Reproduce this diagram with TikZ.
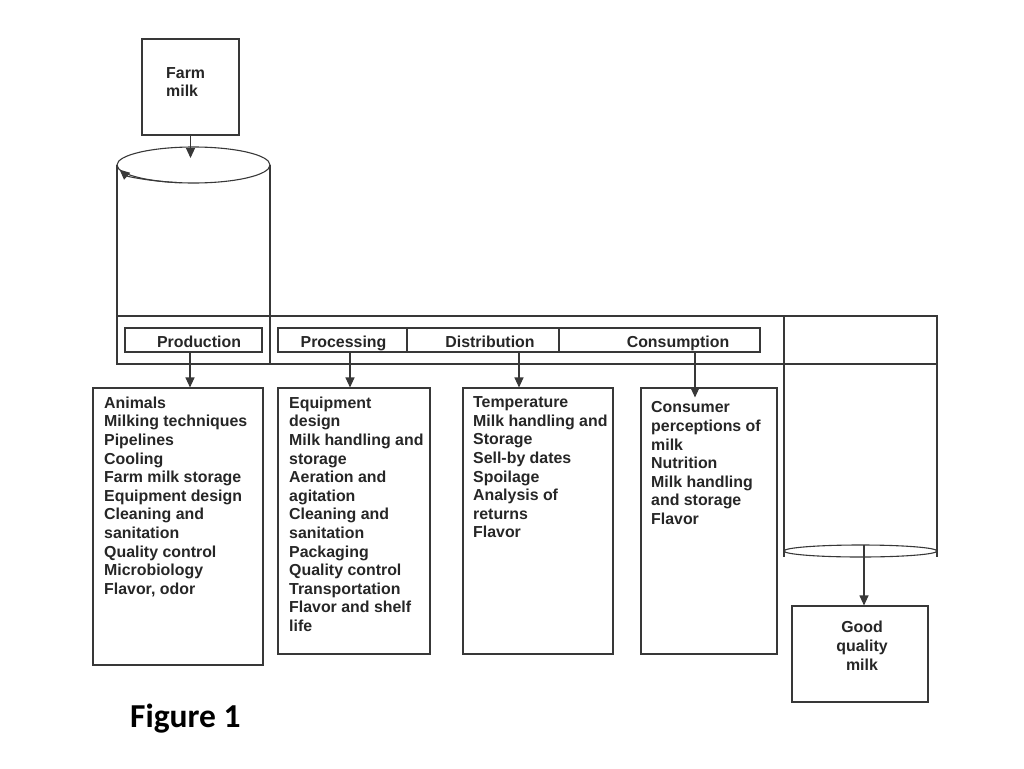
\documentclass[tikz,border=0pt]{standalone}
\usepackage{fontspec}
\setmainfont{Liberation Sans}
\newfontfamily\figfont{Carlito}
\usetikzlibrary{arrows.meta}
\begin{document}
\begin{tikzpicture}[x=1pt,y=-1pt,
  ln/.style={draw=black!78, line width=1.1pt},
  box/.style={ln, rectangle, inner sep=0pt},
  lab/.style={box, minimum height=24pt, text height=15pt, text depth=1pt,
    font=\fontsize{15.9}{18.6}\selectfont\bfseries, text=black!85},
  lst/.style={align=left, inner sep=0pt, text=black!85,
    font=\fontsize{15.9}{18.6}\selectfont\bfseries},
  arr/.style={ln, -{Triangle[length=10pt,width=9pt]}}]
\useasboundingbox (0,0) rectangle (1024,768);

% top box and first cylinder
\node[box, minimum width=97pt, minimum height=96pt] (farm) at (190.5,87) {};
\node[lst, anchor=north west, font=\fontsize{15.9}{18}\selectfont\bfseries] (farmtxt) at (166,67) {Farm\\milk};
\draw[ln] (193.5,165) ellipse [x radius=76.5, y radius=18];
\draw[arr] (193.5,165) ++(100:76.5 and 18) arc[start angle=100, end angle=165, x radius=76.5, y radius=18];
\draw[ln] (117,165) -- (117,316);
\draw[ln] (270,165) -- (270,364);
\coordinate (cyl1) at (190.5,158);
\draw[arr] (farm.south) -- (cyl1);

% stage band
\node[box, minimum width=820pt, minimum height=48pt] (stage) at (527,340) {};
\draw[ln] (784,316) -- (784,557);
\draw[ln] (937,316) -- (937,557);
\draw[ln] (860.5,551) ellipse [x radius=76.5, y radius=6];

\node[lab, minimum width=137pt] (prodlab) at (193.5,340) {\hspace*{11pt}Production};
\node[lab, minimum width=129pt] (proclab) at (342.5,340) {\hspace*{2pt}Processing};
\node[lab, minimum width=152pt] (distlab) at (483,340) {\hspace*{14pt}Distribution};
\node[lab, minimum width=201pt] (conslab) at (659.5,340) {\hspace*{37pt}Consumption};

% list boxes
\node[box, minimum width=170pt, minimum height=277pt] (prodlist) at (178,526.5) {};
\node[box, minimum width=152pt, minimum height=266pt] (proclist) at (354,521) {};
\node[box, minimum width=150pt, minimum height=266pt] (distlist) at (538,521) {};
\node[box, minimum width=136pt, minimum height=266pt] (conslist) at (709,521) {};

\node[lst, anchor=north west] (prodtxt) at (104,396.5) {Animals\\Milking techniques\\Pipelines\\Cooling\\Farm milk storage\\Equipment design\\Cleaning and\\sanitation\\Quality control\\Microbiology\\Flavor, odor};
\node[lst, anchor=north west] (proctxt) at (289,396.5) {Equipment\\design\\Milk handling and\\storage\\Aeration and\\agitation\\Cleaning and\\sanitation\\Packaging\\Quality control\\Transportation\\Flavor and shelf\\life};
\node[lst, anchor=north west] (disttxt) at (473,396.5) {Temperature\\Milk handling and\\Storage\\Sell-by dates\\Spoilage\\Analysis of\\returns\\Flavor};
\node[lst, anchor=north west] (constxt) at (651,401.5) {Consumer\\perceptions of\\milk\\Nutrition\\Milk handling\\and storage\\Flavor};

\draw[arr] ([xshift=-3.5pt]prodlab.south) -- ([xshift=-3.5pt]prodlab.south |- prodlist.north);
\draw[arr] ([xshift=7.5pt]proclab.south) -- ([xshift=7.5pt]proclab.south |- proclist.north);
\draw[arr] ([xshift=36pt]distlab.south) -- ([xshift=36pt]distlab.south |- distlist.north);
\draw[arr] ([xshift=35.5pt]conslab.south) -- ([xshift=35.5pt,yshift=-10pt]conslab.south |- conslist.north);

% output
\node[box, minimum width=136pt, minimum height=96pt] (good) at (860,654) {};
\node[lst, align=center, anchor=north, font=\fontsize{15.9}{19}\selectfont\bfseries] (goodtxt) at (862,621) {Good\\quality\\milk};
\coordinate (cyl2) at (864,545);
\draw[arr] (cyl2) -- (good.north -| cyl2);

\node[anchor=base west, inner sep=0pt, font=\figfont\bfseries\fontsize{33.5}{40}\selectfont] (fig) at (130,727) {Figure 1};
\end{tikzpicture}
\end{document}
